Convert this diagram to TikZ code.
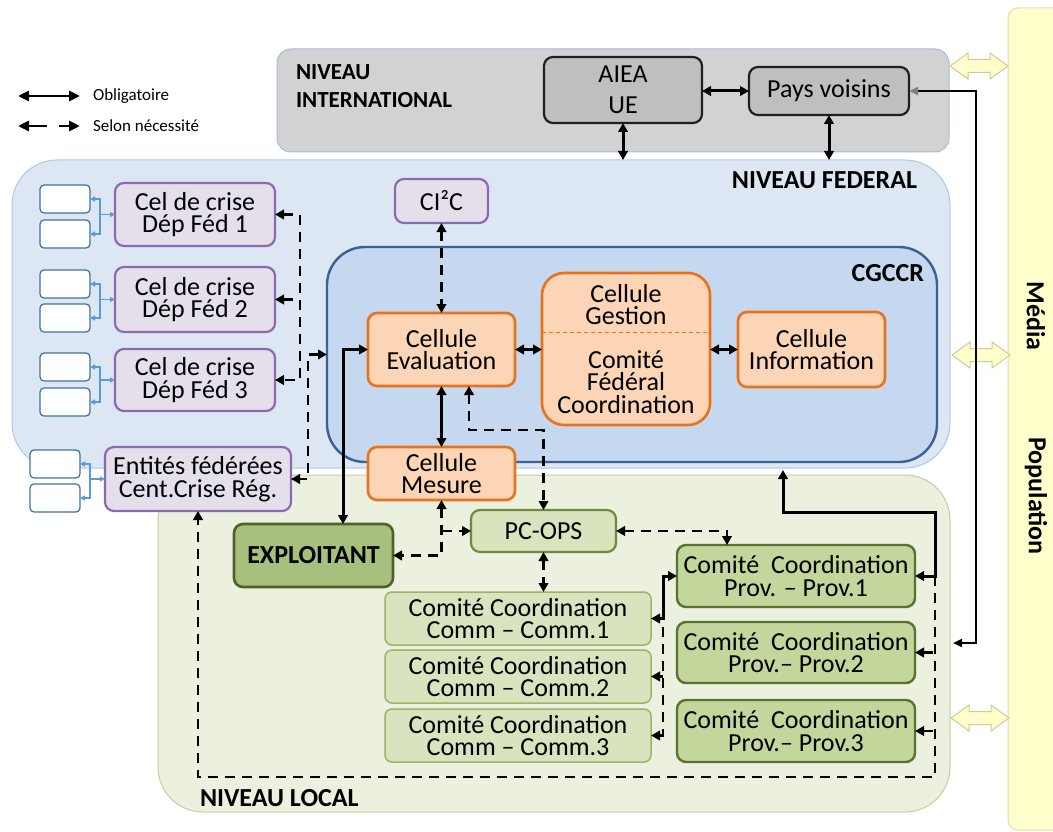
\documentclass[tikz,border=0pt]{standalone}
\usepackage{fontspec}
\setmainfont{Carlito}
\usetikzlibrary{arrows.meta}
\definecolor{intF}{HTML}{D2D2D2}
\definecolor{intD}{HTML}{A9BCD6}
\definecolor{gbF}{HTML}{BFBFBF}
\definecolor{gbD}{HTML}{1F1F1F}
\definecolor{fedF}{HTML}{DDE7F4}
\definecolor{fedD}{HTML}{AFC6E6}
\definecolor{cgF}{HTML}{C5D8EF}
\definecolor{cgD}{HTML}{3B6093}
\definecolor{purF}{HTML}{E5DFEC}
\definecolor{purD}{HTML}{8A6BAE}
\definecolor{orF}{HTML}{FBD5B5}
\definecolor{orD}{HTML}{E8731C}
\definecolor{locF}{HTML}{EBF0DF}
\definecolor{locD}{HTML}{C3D09E}
\definecolor{lgF}{HTML}{D7E4BD}
\definecolor{lgD}{HTML}{9BB36A}
\definecolor{pcD}{HTML}{6F8A3A}
\definecolor{pvF}{HTML}{C3D69B}
\definecolor{pvD}{HTML}{5A7030}
\definecolor{exF}{HTML}{A8C07D}
\definecolor{exD}{HTML}{4F6228}
\definecolor{yF}{HTML}{FFFFCC}
\definecolor{yD}{HTML}{E0DDB0}
\definecolor{yaD}{HTML}{CFC99B}
\definecolor{smD}{HTML}{41719C}
\definecolor{blA}{HTML}{5B9BD5}
\begin{document}
\begin{tikzpicture}[x=1pt,y=-1pt,
  every node/.style={inner sep=0pt,outer sep=0pt},
  >={Triangle[length=9pt,width=9.5pt]},
  panel/.style={rounded corners=#1},
  box/.style={draw,rounded corners=9pt,align=center,line width=2.2pt,font=\fontsize{26}{22.5}\selectfont},
  purp/.style={box,fill=purF,draw=purD},
  oran/.style={box,fill=orF,draw=orD,line width=2.6pt},
  greyb/.style={box,fill=gbF,draw=gbD},
  commb/.style={box,fill=lgF,draw=lgD,line width=1.5pt,rounded corners=7pt},
  pcb/.style={box,fill=lgF,draw=pcD},
  provb/.style={box,fill=pvF,draw=pvD,line width=2.4pt},
  smallb/.style={draw=smD,fill=white,line width=1.2pt,rounded corners=4pt,minimum width=50,minimum height=28},
  hd/.style={font=\bfseries\fontsize{26}{28}\selectfont},
  sol/.style={line width=3pt},
  dsh/.style={line width=2.8pt,dash pattern=on 10pt off 7pt},
  bl/.style={draw=blA,line width=1.3pt,>={Triangle[length=5pt,width=5pt]}},
  yarr/.style={fill=yF,draw=yaD,line width=1pt},
]
\useasboundingbox (0,0) rectangle (1053,832);

% panels
\node[panel=10pt,draw=yD,fill=yF,line width=1pt,minimum width=70,minimum height=822] (media) at (1043,419) {};
\node[panel=14pt,draw=intD,fill=intF,line width=1pt,minimum width=672,minimum height=103] (intl) at (613,100.5) {};
\node[panel=45pt,draw=fedD,fill=fedF,line width=1pt,minimum width=938,minimum height=308] (fed) at (481,314) {};
\node[panel=38pt,draw=cgD,fill=cgF,line width=2.4pt,minimum width=610,minimum height=215] (cgccr) at (632,354.5) {};
\node[panel=45pt,draw=locD,fill=locF,line width=1pt,minimum width=792,minimum height=337] (local) at (554,643.5) {};

% yellow double arrows
\foreach \xa/\xb/\yy in {950/1008/66, 952/1010/355, 951/1009/718}{
  \draw[yarr] (\xa,\yy) -- (\xa+18,\yy-13) -- (\xa+18,\yy-6.5) -- (\xb-18,\yy-6.5) -- (\xb-18,\yy-13)
   -- (\xb,\yy) -- (\xb-18,\yy+13) -- (\xb-18,\yy+6.5) -- (\xa+18,\yy+6.5) -- (\xa+18,\yy+13) -- cycle;}

% headings
\node[hd,font=\bfseries\fontsize{23}{28}\selectfont,anchor=west,align=left] (tintl) at (296,86) {NIVEAU\\INTERNATIONAL};
\node[hd,anchor=east] (tfed) at (917,180) {NIVEAU FEDERAL};
\node[hd,anchor=east] (tcg) at (924,273) {CGCCR};
\node[hd,anchor=west] (tloc) at (200,798) {NIVEAU LOCAL};
\node[hd,rotate=-90] (tmed) at (1036,316) {Média};
\node[hd,rotate=-90] (tpop) at (1036,496) {Population};

% legend
\coordinate (la1) at (18,96); \coordinate (la2) at (80,96);
\coordinate (lb1) at (18,126); \coordinate (lb2) at (80,126);
\draw[line width=2.8pt,{Triangle[length=11pt,width=10pt]}-{Triangle[length=11pt,width=10pt]}] (la1) -- (la2);
\draw[line width=2.8pt,dash pattern=on 19pt off 12pt,{Triangle[length=11pt,width=10pt]}-{Triangle[length=11pt,width=10pt]}] (lb1) -- (lb2);
\node[anchor=west,font=\fontsize{17}{20}\selectfont] (lob) at (93,96) {Obligatoire};
\node[anchor=west,font=\fontsize{17}{20}\selectfont] (lsel) at (93,126) {Selon nécessité};

% international
\node[greyb,minimum width=158,minimum height=66] (aiea) at (623,90) {AIEA\\[9pt]UE};
\node[greyb,minimum width=160,minimum height=48] (pv) at (829,91) {Pays voisins};

% federal
\node[purp,minimum width=93,minimum height=44] (ci2c) at (441.5,201) {CI²C};
\node[purp,minimum width=160,minimum height=63] (cel1) at (195,214.5) {Cel de crise\\Dép Féd 1};
\node[purp,minimum width=160,minimum height=65] (cel2) at (195,299.5) {Cel de crise\\Dép Féd 2};
\node[purp,minimum width=160,minimum height=62] (cel3) at (195,380) {Cel de crise\\Dép Féd 3};
\node[purp,minimum width=186,minimum height=64] (ent) at (198,479) {Entités fédérées\\Cent.Crise Rég.};

\node[smallb] (s1a) at (65,199) {};
\node[smallb] (s1b) at (65,234) {};
\node[smallb] (s2a) at (65,284) {};
\node[smallb] (s2b) at (65,318) {};
\node[smallb] (s3a) at (65,367) {};
\node[smallb] (s3b) at (65,402) {};
\node[smallb] (sea) at (55,464) {};
\node[smallb] (seb) at (55,498) {};

\node[oran,minimum width=147,minimum height=73] (eval) at (441.5,349.5) {Cellule\\Evaluation};
\node[oran,minimum width=168,minimum height=152,rounded corners=22pt] (gest) at (626,349) {Cellule\\Gestion\\[21pt]Comité\\Fédéral\\Coordination};
\draw[orD,line width=1pt,dash pattern=on 4pt off 3pt] ([yshift=17pt]gest.west) -- ([yshift=17pt]gest.east);
\node[oran,minimum width=147,minimum height=75] (info) at (811.5,349.5) {Cellule\\Information};
\node[oran,minimum width=147,minimum height=53] (mesure) at (441.5,473.5) {Cellule\\Mesure};

% local
\node[pcb,minimum width=145,minimum height=42] (pcops) at (543.5,531) {PC-OPS};
\node[box,fill=exF,draw=exD,line width=2.6pt,minimum width=159,minimum height=63,font=\bfseries\fontsize{26}{22.5}\selectfont] (expl) at (313.5,555.5) {EXPLOITANT};
\node[commb,minimum width=266,minimum height=53] (comm1) at (518,618.5) {Comité Coordination\\Comm – Comm.1};
\node[commb,minimum width=266,minimum height=53] (comm2) at (518,676.5) {Comité Coordination\\Comm – Comm.2};
\node[commb,minimum width=266,minimum height=53] (comm3) at (518,735.5) {Comité Coordination\\Comm – Comm.3};
\node[provb,minimum width=238,minimum height=62] (prov1) at (796,576) {Comité\hspace{6pt} Coordination\\Prov. – Prov.1};
\node[provb,minimum width=238,minimum height=61] (prov2) at (796,652.5) {Comité\hspace{6pt} Coordination\\Prov.– Prov.2};
\node[provb,minimum width=238,minimum height=62] (prov3) at (796,731) {Comité\hspace{6pt} Coordination\\Prov.– Prov.3};

% blue forks
\foreach \a/\b/\c in {s1a/s1b/cel1, s2a/s2b/cel2, s3a/s3b/cel3, sea/seb/ent}{
  \draw[bl,<->] (\a.east) -- ++(10,0) |- (\b.east);
  \draw[bl,->] ([xshift=-14pt]\c.west) -- (\c.west);}

% international connectors
\draw[sol,<->] (aiea.east |- pv.west) -- (pv.west);
\draw[sol,<->] (aiea.south) -- (aiea.south |- fed.north);
\draw[sol,<->] (pv.south) -- (pv.south |- fed.north);
\coordinate (locE) at (953,643);
\draw[line width=2.2pt,{Triangle[length=9pt,width=8pt,color=gray]}-{Triangle[length=9pt,width=8pt]}] (pv.east) -- ++(67,0) |- (locE);

% federal connectors
\draw[dsh,<->] (cel1.east) -- ++(25,0) |- (cel3.east);
\draw[dsh,<-] (cel2.east) -- ++(25,0);
\draw[dsh,<->] (cgccr.west) -- ++(-19,0) |- (ent.east);
\draw[dsh,<->] (ci2c.south) -- (eval.north);
\draw[sol,<->] (eval.east) -- (gest.west |- eval.east);
\draw[sol,<->] (gest.east |- info.west) -- (info.west);
\draw[sol,<->] (eval.south) -- (mesure.north);
\draw[sol,<->] (eval.west) -| ([xshift=29.5pt]expl.north);
\draw[dsh,<->] ([xshift=27.5pt]eval.south) -- ++(0,44) -| (pcops.north);

% local connectors
\draw[dsh,<->] (mesure.south) |- (expl.east);
\draw[dsh,->] (mesure.south |- pcops.west) -- (pcops.west);
\draw[dsh,<->] (pcops.south) -- (pcops.south |- comm1.north);
\draw[dsh,<->] (pcops.east) -| ([xshift=-69pt]prov1.north);
\draw[sol,<->] (comm1.east) -- ++(12,0) |- (prov1.west);
\draw[dsh,<-] (comm3.east) -- ++(12,0) -- ([xshift=12pt]comm1.east);
\draw[dsh,<-] (comm2.east) -- ++(12,0);
\coordinate (fedB) at (783,470);
\draw[sol,<->] (prov1.east) -| ++(20,-64) -| (fedB);
\draw[dsh,->] ([xshift=20pt]prov1.east) -- ++(0,201) -| (ent.south);
\draw[dsh,<-] (prov2.east) -- ++(20,0);
\draw[dsh,<-] (prov3.east) -- ++(20,0);
\end{tikzpicture}
\end{document}
